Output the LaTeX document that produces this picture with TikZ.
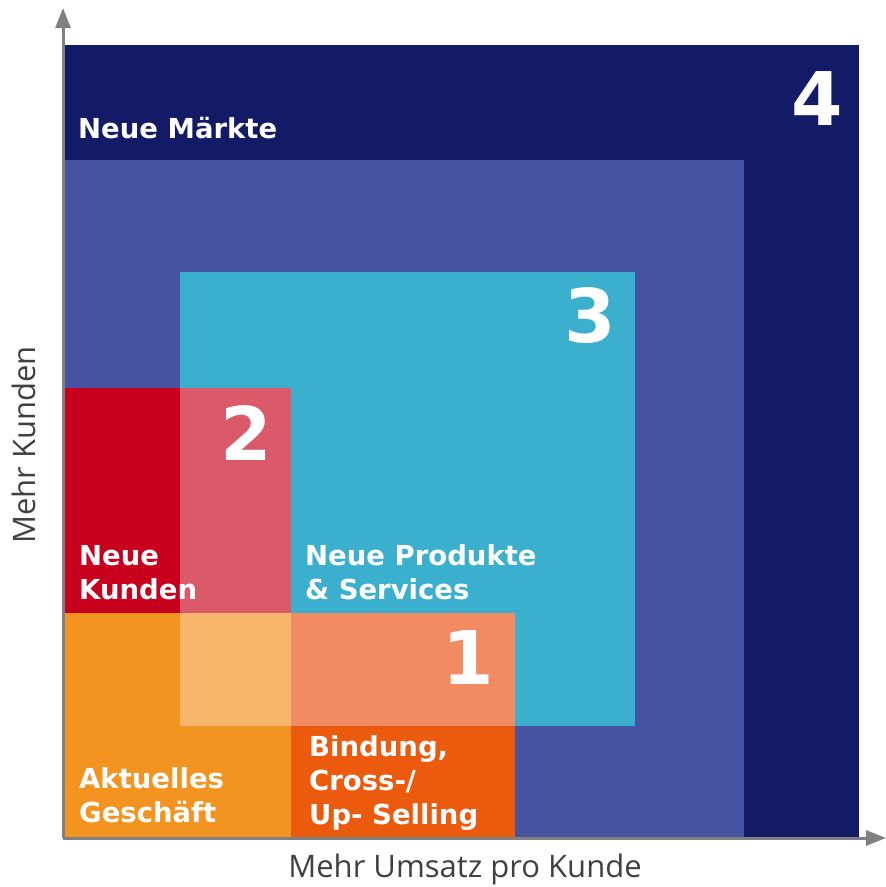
\documentclass[tikz,border=0pt]{standalone}
\usepackage{fontspec}
\setmainfont{DejaVu Sans}
\newfontfamily\axisfont{Open Sans}
\usetikzlibrary{arrows.meta}
\definecolor{navy}{RGB}{20,27,102}
\definecolor{midblue}{RGB}{70,83,163}
\definecolor{cyanbox}{RGB}{59,176,206}
\definecolor{redbox}{RGB}{200,0,30}
\definecolor{pinkbox}{RGB}{219,90,106}
\definecolor{orangebox}{RGB}{243,147,32}
\definecolor{lightorange}{RGB}{248,181,108}
\definecolor{salmonbox}{RGB}{242,139,98}
\definecolor{darkorange}{RGB}{236,90,13}
\definecolor{axisgray}{RGB}{128,128,128}
\definecolor{textgray}{RGB}{64,64,64}
\tikzset{
  % white labels inside the fields (base = last line)
  lab/.style={anchor=base west,align=left,text=white,inner sep=0pt,
    font=\bfseries\fontsize{27.5}{34}\selectfont},
  num/.style={anchor=base east,text=white,inner sep=0pt,
    font=\bfseries\fontsize{74}{74}\selectfont},
  axis/.style={draw=axisgray,line width=3pt,-{Triangle[length=20pt,width=15pt]}},
  axislab/.style={text=textgray,inner sep=0pt,
    font=\axisfont\fontsize{31}{31}\selectfont}
}
\begin{document}
\begin{tikzpicture}[x=1pt,y=-1pt]
  \useasboundingbox (0,0) rectangle (886,887);
  % fields
  \fill[navy] (65,45) rectangle (859,838);
  \fill[midblue] (65,160) rectangle (744,838);
  \fill[cyanbox] (180,272) rectangle (635,726);
  \fill[redbox] (65,388) rectangle (180,613);
  \fill[pinkbox] (180,388) rectangle (291,613);
  \fill[orangebox] (65,613) rectangle (291,838);
  \fill[lightorange] (180,613) rectangle (291,726);
  \fill[salmonbox] (291,613) rectangle (515,726);
  \fill[darkorange] (291,726) rectangle (515,838);
  % axes
  \coordinate (o) at (63,838);
  \coordinate (ytip) at (63,8);
  \coordinate (xtip) at (886,838);
  \draw[axis] (o) -- (ytip);
  \draw[axis] (o) -- (xtip);
  % labels
  \node[lab] (maerkte) at (78,138) {Neue Märkte};
  \node[lab] (kunden) at (79,599) {Neue\\Kunden};
  \node[lab] (produkte) at (305,599) {Neue Produkte\\\& Services};
  \node[lab] (aktuell) at (79,822) {Aktuelles\\Geschäft};
  \node[lab] (bindung) at (309,824) {Bindung,\\Cross-/\\Up- Selling};
  \node[num] (n4) at (843,125) {4};
  \node[num] (n3) at (616,342) {3};
  \node[num] (n2) at (272,460) {2};
  \node[num] (n1) at (494,684) {1};
  \node[axislab,anchor=base] (xlab) at (465,877) {Mehr Umsatz pro Kunde};
  \node[axislab,anchor=base,rotate=90] (ylab) at (35,445) {Mehr Kunden};
\end{tikzpicture}
\end{document}
